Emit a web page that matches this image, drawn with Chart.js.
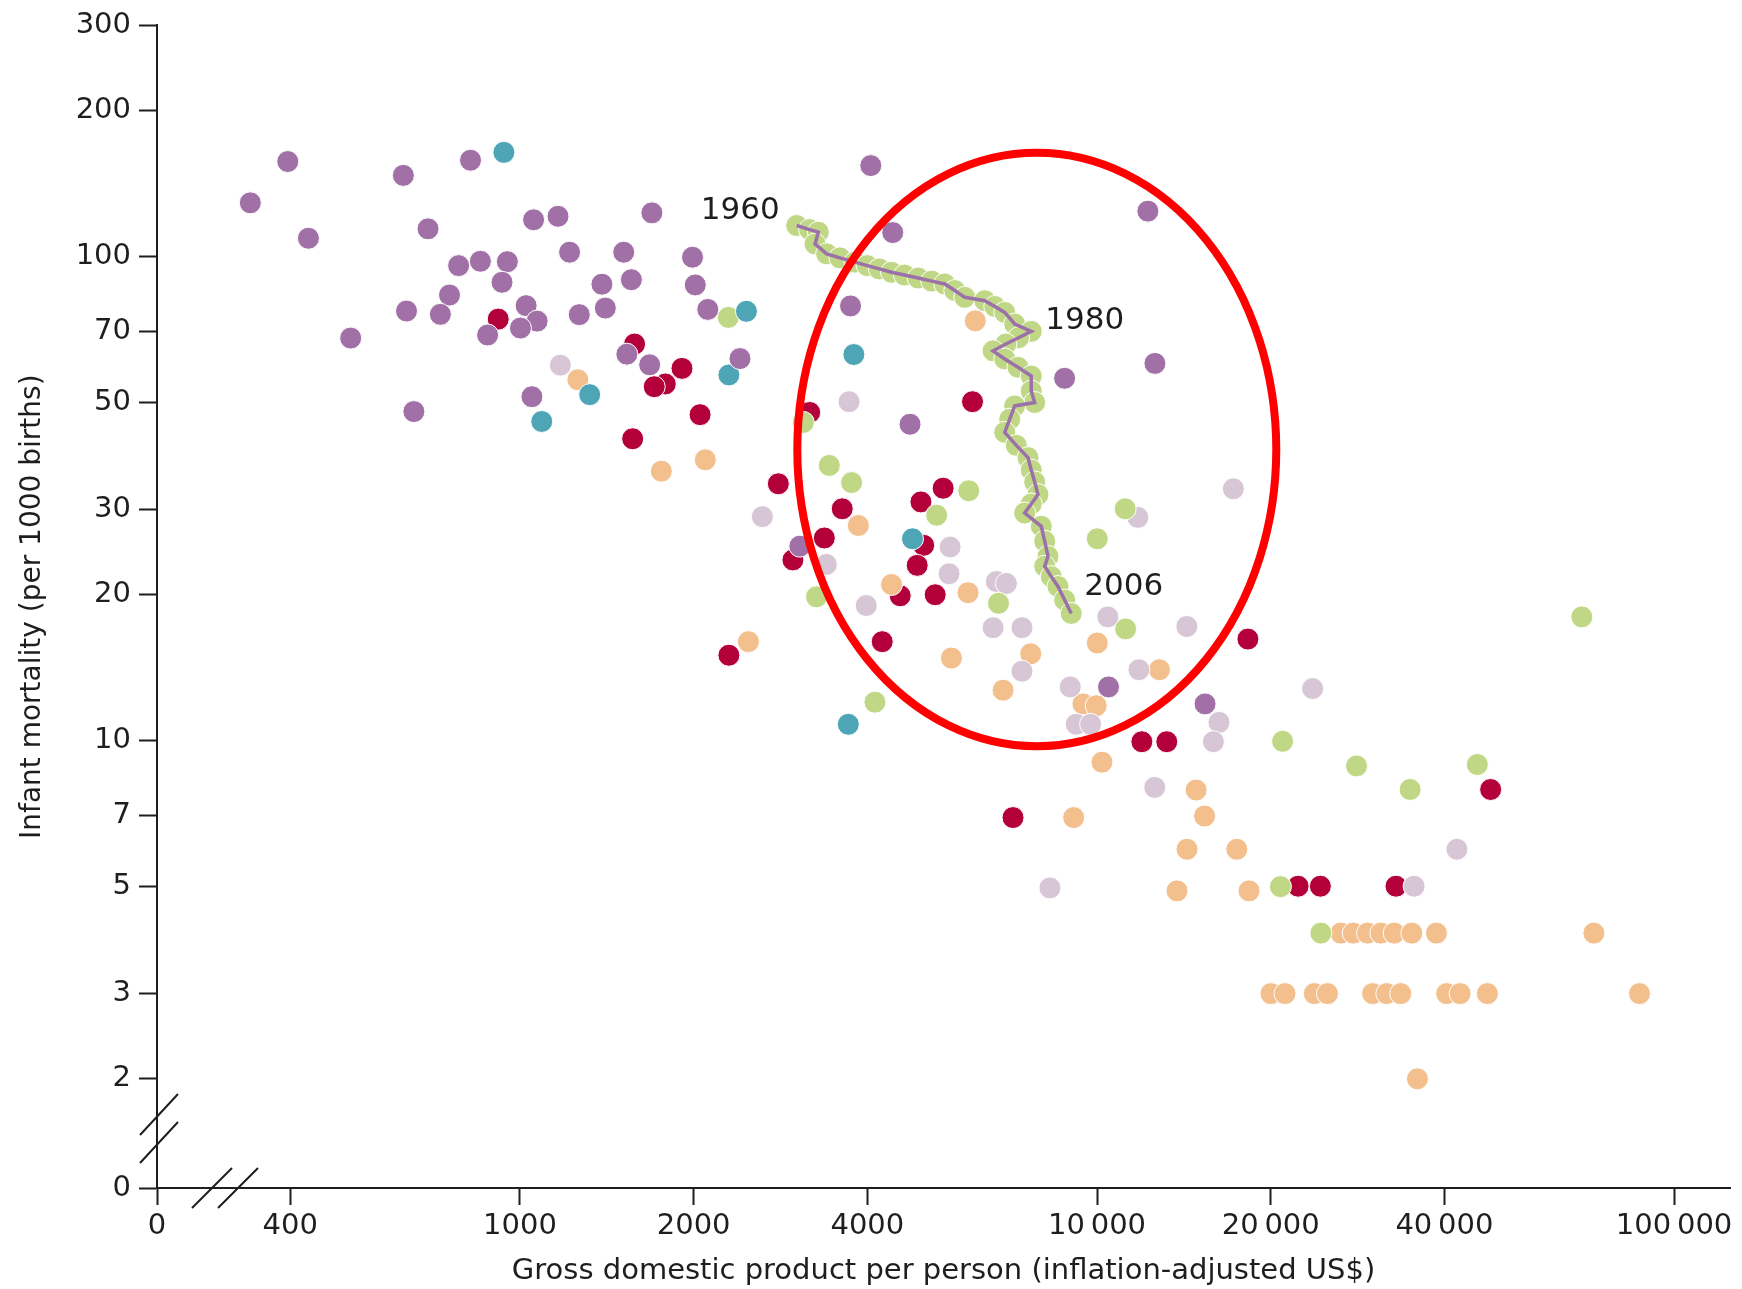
<!DOCTYPE html>
<html>
<head>
<meta charset="utf-8">
<script src="https://cdn.jsdelivr.net/npm/chart.js@4.4.1/dist/chart.umd.min.js"></script>
<style>
  html, body { margin: 0; padding: 0; background: #ffffff; }
  #wrap { width: 1742px; height: 1289px; }
</style>
</head>
<body>
<div id="wrap"><canvas id="chart" width="1742" height="1289"></canvas></div>
<script>
// GDP per person (US$) and infant mortality (per 1000 births), one pair of arrays per colour group
const purpleGdp  = [396, 341, 430, 628, 821, 693, 1056, 1164, 1693, 1219, 1513, 1991, 783, 854, 951, 931, 1387, 1560, 2013, 755, 636, 728, 1025, 1071, 1002, 879, 1267, 1406, 2116, 509, 1532, 1678, 1049, 655, 2406, 4055, 4426, 12250, 3740, 12600, 8787, 4742, 3055, 15390, 10470];
const purpleMort = [157, 129, 109, 147, 158, 114, 119, 121, 123, 102, 102, 99.6, 95.7, 97.7, 97.5, 88.4, 87.6, 89.5, 87.3, 83.2, 77.1, 75.9, 79.1, 73.5, 71.1, 68.8, 75.8, 78.2, 77.7, 67.8, 62.8, 59.7, 51.3, 47.8, 61.5, 154, 112, 124, 79, 60.1, 56, 45, 25.2, 11.9, 12.9];

const tealGdp  = [938, 1321, 1091, 2302, 2469, 3790, 4789, 3707];
const tealMort = [164, 51.8, 45.6, 56.9, 77, 62.7, 26.1, 10.8];

const redGdp  = [917, 1580, 1909, 1786, 1709, 2052, 1568, 2804, 3178, 6085, 3618, 5412, 4953, 3369, 5008, 2972, 4880, 4560, 5243, 4244, 2302, 7152, 18260, 11960, 13210, 48100, 22310, 24380, 32970];
const redMort = [74.2, 65.9, 58.7, 54.5, 53.8, 47.1, 42, 33.9, 47.6, 50.1, 30.1, 33.2, 31.1, 26.2, 25.3, 23.6, 23, 19.9, 20, 16, 15, 6.93, 16.2, 9.94, 9.94, 7.92, 5, 5, 5];

const lilacGdp  = [1175, 3718, 2631, 5565, 3396, 5542, 3982, 6692, 6965, 6605, 7413, 7413, 17230, 11770, 10440, 14310, 11820, 8987, 9205, 9748, 16270, 15910, 12590, 23640, 8288, 42040, 35440];
const lilacMort = [59.6, 50.1, 29, 25.1, 23.1, 22.1, 19, 21.3, 21.1, 17.1, 17.1, 13.9, 33.1, 28.9, 18, 17.2, 14, 12.9, 10.8, 10.8, 10.9, 9.94, 8, 12.8, 4.96, 5.96, 5];

const peachGdp  = [1260, 1758, 2095, 6152, 3858, 2488, 4405, 5977, 5594, 7676, 6874, 10010, 12830, 9454, 9968, 10200, 14850, 15360, 9111, 14320, 17470, 13760, 18340,
                   26460, 27800, 29430, 31030, 32730, 35120, 38740, 72620,
                   20020, 21170, 23800, 25080, 30030, 31780, 33600, 40360, 42580, 47480, 87100, 35920];
const peachMort = [55.6, 36, 38, 73.6, 27.8, 16, 21, 20.2, 14.8, 15.1, 12.7, 15.9, 14, 11.9, 11.8, 9.02, 7.9, 6.98, 6.93, 5.96, 5.96, 4.89, 4.89,
                   4, 4, 4, 4, 4, 4, 4, 4,
                   3, 3, 3, 3, 3, 3, 3, 3, 3, 3, 3, 2];

const greenGdp  = [2297, 3098, 3436, 3756, 5994, 5274, 3265, 6750, 4123, 11190, 10010, 11210, 20970, 28170, 34880, 45610, 69200, 20790, 24430];
const greenMort = [74.8, 45.4, 37, 34.1, 32.8, 29.2, 19.8, 19.2, 12, 30.1, 26.1, 17, 9.96, 8.86, 7.92, 8.92, 18, 4.99, 4];

// one country's path, 1960 to 2006
const trajGdp  = [3017, 3177, 3289, 3246, 3400, 3584, 3807, 3998, 4195, 4405, 4638, 4899, 5171, 5447, 5669, 5900, 6391, 6650, 6920, 7200, 7692,
                  7311, 6950, 6605, 6920, 7296, 7692, 7692, 7798, 7200, 7059, 6920, 7247, 7592, 7692, 7798, 7901, 7692, 7493, 8006, 8116, 8224, 8116, 8333, 8558, 8789, 9023];
const trajMort = [115.8, 113.6, 112.2, 106.1, 101.2, 99.3, 97.3, 95.7, 94.2, 92.7, 91.5, 90.2, 88.9, 87.7, 85, 82.3, 81, 78.8, 76.6, 72.5, 70,
                  67.9, 65.9, 63.8, 61.4, 59, 56.6, 52.7, 49.9, 49.1, 46.1, 43.3, 40.7, 38.4, 36.2, 34.2, 32.2, 30.8, 29.5, 27.7, 25.8, 24, 22.9, 21.8, 20.8, 19.5, 18.3];
const yearLabels = ['1960', '1980', '2006'];
const yearIndex  = [0, 20, 46];

// axes (the lowest tick on each axis stands for the broken "0")
const xTickValues = [235, 400, 1000, 2000, 4000, 10000, 20000, 40000, 100000];
const xTickLabels = ['0', '400', '1000', '2000', '4000', '10\u2009000', '20\u2009000', '40\u2009000', '100\u2009000'];
const yTickValues = [1.19, 2, 3, 5, 7, 10, 20, 30, 50, 70, 100, 200, 300];
const yTickLabels = ['0', '2', '3', '5', '7', '10', '20', '30', '50', '70', '100', '200', '300'];

// highlighted region: centre (GDP, mortality) and half-widths in decades
const ringCentre = [7864, 39.9];
const ringSpan = [0.415, 0.613];

const pts = (xs, ys) => xs.map((x, i) => ({ x: x, y: ys[i] }));

const dots = (data, color, order) => ({
  data: data,
  backgroundColor: color,
  borderColor: '#ffffff',
  borderWidth: 1,
  pointRadius: 11,
  order: order
});

const ink = '#1e1e1e';

const extras = {
  id: 'extras',
  afterDraw(chart) {
    const { ctx, chartArea: a } = chart;
    const xs = chart.scales.x, ys = chart.scales.y;
    ctx.save();

    // axis break marks
    ctx.strokeStyle = ink;
    ctx.lineWidth = 2;
    ctx.beginPath();
    [35, 61].forEach(dx => {
      ctx.moveTo(a.left + dx, a.bottom + 20);
      ctx.lineTo(a.left + dx + 40, a.bottom - 20);
    });
    [-53, -25].forEach(dy => {
      ctx.moveTo(a.left - 17, a.bottom + dy);
      ctx.lineTo(a.left + 21, a.bottom + dy - 41);
    });
    ctx.stroke();

    // red ring
    const cx = xs.getPixelForValue(ringCentre[0]);
    const cy = ys.getPixelForValue(ringCentre[1]);
    const rx = xs.getPixelForValue(ringCentre[0] * Math.pow(10, ringSpan[0])) - cx;
    const ry = cy - ys.getPixelForValue(ringCentre[1] * Math.pow(10, ringSpan[1]));
    ctx.strokeStyle = '#ff0000';
    ctx.lineWidth = 8;
    ctx.beginPath();
    ctx.ellipse(cx, cy, rx, ry, 0, 0, Math.PI * 2);
    ctx.stroke();

    // year labels on the path
    const place = [[-17, -15, 'right'], [14, -10, 'left'], [13, -26, 'left']];
    ctx.fillStyle = ink;
    ctx.font = '31px "DejaVu Sans"';
    ctx.textBaseline = 'middle';
    yearIndex.forEach((k, i) => {
      const px = xs.getPixelForValue(trajGdp[k]);
      const py = ys.getPixelForValue(trajMort[k]);
      ctx.textAlign = place[i][2];
      ctx.fillText(yearLabels[i], px + place[i][0], py + place[i][1]);
    });
    ctx.restore();
  }
};

Chart.defaults.font.family = '"DejaVu Sans", sans-serif';
Chart.defaults.color = ink;

new Chart(document.getElementById('chart'), {
  type: 'scatter',
  data: {
    datasets: [
      dots(pts(redGdp, redMort), '#b4003a', 8),
      dots(pts(peachGdp, peachMort), '#f2bf8d', 7),
      dots(pts(lilacGdp, lilacMort), '#d7c7d6', 6),
      dots(pts(greenGdp, greenMort), '#c0d886', 5),
      dots(pts(tealGdp, tealMort), '#4ea5b6', 4),
      dots(pts(purpleGdp, purpleMort), '#a070a6', 3),
      dots(pts(trajGdp, trajMort), '#c0d886', 2),
      {
        data: pts(trajGdp, trajMort),
        showLine: true,
        borderColor: '#9c70a8',
        borderWidth: 3.5,
        pointRadius: 0,
        fill: false,
        order: 1
      }
    ]
  },
  options: {
    responsive: false,
    animation: false,
    events: [],
    layout: { padding: { top: 24, right: 9, bottom: 0, left: 0 } },
    plugins: {
      legend: { display: false },
      tooltip: { enabled: false }
    },
    scales: {
      x: {
        type: 'logarithmic',
        position: 'bottom',
        min: 235,
        max: 125000,
        bounds: 'data',
        afterBuildTicks: s => { s.ticks = xTickValues.map(v => ({ value: v })); },
        afterFit: s => { s.height = 101; },
        border: { display: true, color: ink, width: 2 },
        grid: { display: true, drawOnChartArea: false, drawTicks: true, tickLength: 17, tickColor: ink, tickWidth: 2 },
        ticks: {
          autoSkip: false, maxRotation: 0, minRotation: 0, padding: 4,
          font: { size: 29 }, color: ink,
          callback: (v, i) => xTickLabels[i]
        },
        title: {
          display: true,
          text: 'Gross domestic product per person (inflation-adjusted US$)',
          font: { size: 29 }, color: ink,
          padding: { top: 0, bottom: 0 }
        }
      },
      y: {
        type: 'logarithmic',
        position: 'left',
        min: 1.19,
        max: 300,
        bounds: 'data',
        afterBuildTicks: s => { s.ticks = yTickValues.map(v => ({ value: v })); },
        afterFit: s => { s.width = 157; },
        border: { display: true, color: ink, width: 2 },
        grid: { display: true, drawOnChartArea: false, drawTicks: true, tickLength: 18, tickColor: ink, tickWidth: 2 },
        ticks: {
          autoSkip: false, padding: 8,
          font: { size: 29 }, color: ink,
          callback: (v, i) => yTickLabels[i]
        },
        title: {
          display: true,
          text: 'Infant mortality (per 1000 births)',
          font: { size: 28 }, color: ink,
          padding: { top: 16, bottom: 0 }
        }
      }
    }
  },
  plugins: [extras]
});
</script>
</body>
</html>
